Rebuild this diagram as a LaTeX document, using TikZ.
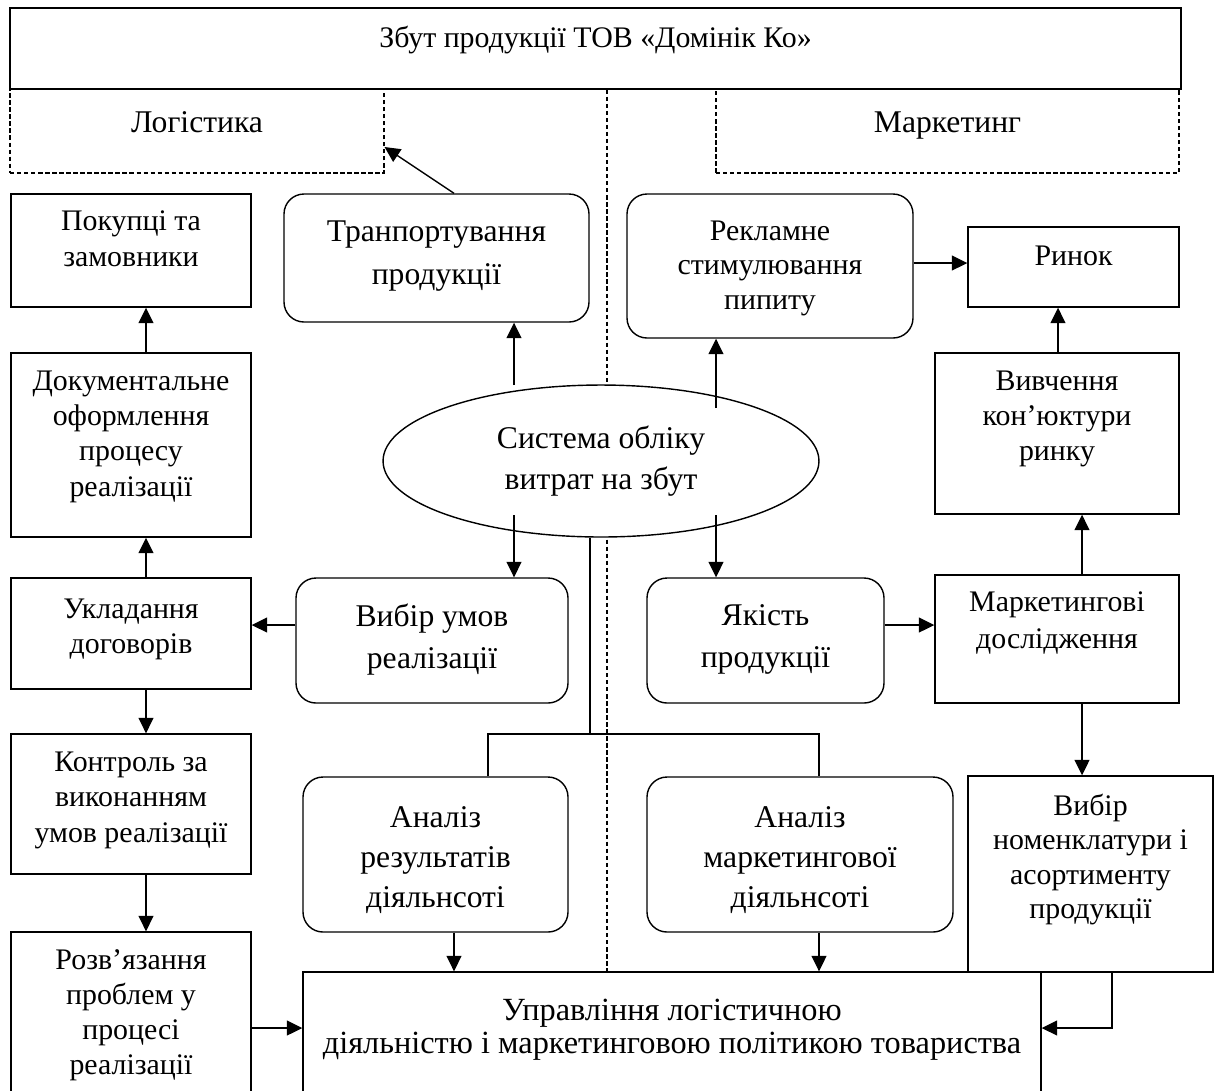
\documentclass[tikz,border=0pt]{standalone}
\usepackage{fontspec}
\setmainfont{Liberation Serif}
\usepackage{tikz}
\usetikzlibrary{arrows.meta,calc,fit,shapes.geometric}

\begin{document}
\begin{tikzpicture}[
  x=0.02cm, y=-0.02cm,
  bx/.style={draw, line width=0.8pt, inner sep=0pt},
  rb/.style={bx, rounded corners=0.4cm},
  zn/.style={draw, line width=0.6pt, dash pattern=on 2.5pt off 1.5pt, inner sep=0pt},
  txt/.style={align=center, inner sep=0pt, anchor=north},
  ts/.style={txt, font=\fontsize{17}{20}\selectfont},
  tl/.style={txt, font=\fontsize{18}{23}\selectfont},
  arr/.style={-{Triangle[length=3.1mm,width=3mm]}, line width=0.8pt},
  ln/.style={line width=0.8pt}
]
\useasboundingbox (0,0) rectangle (1219,1090);
\clip (0,0) rectangle (1219,1090);

\coordinate (cA) at (146,0);
\coordinate (cG) at (454,0);
\coordinate (cL) at (514,0);
\coordinate (cD) at (590,0);
\coordinate (cV) at (607,0);
\coordinate (cR) at (716,0);
\coordinate (cB) at (1058,0);
\coordinate (cC) at (1082,0);
\coordinate (cH) at (1112,0);
\coordinate (bL) at (488,734);
\coordinate (bR) at (819,734);
\coordinate (r0) at (0,263);
\coordinate (r1) at (0,625);
\coordinate (r2) at (0,1028);

\node[zn, fit={(10,89) (384,173)}, label={[tl, yshift=-0.45cm]north:{Логістика}}] (log) {};
\node[zn, fit={(716,89) (1179,173)}, label={[tl, yshift=-0.45cm]north:{Маркетинг}}] (mkt) {};
\node[bx, fit={(10,8) (1181,89)}, label={[ts, yshift=-0.37cm]north:{Збут продукції ТОВ «Домінік Ко»}}] (ttl) {};

\node[bx, fit={(11,194) (251,307)}, label={[ts, yshift=-0.35cm]north:{Покупці та\\замовники}}] (pok) {};
\node[bx, fit={(11,353) (251,537)}, label={[ts, yshift=-0.37cm]north:{Документальне\\оформлення\\процесу\\реалізації}}] (dok) {};
\node[bx, fit={(11,578) (251,689)}, label={[ts, yshift=-0.43cm]north:{Укладання\\договорів}}] (ukl) {};
\node[bx, fit={(11,734) (251,874)}, label={[ts, yshift=-0.37cm]north:{Контроль за\\виконанням\\умов реалізації}}] (kon) {};
\node[bx, fit={(11,932) (251,1110)}, label={[ts, yshift=-0.35cm]north:{Розв’язання\\проблем у\\процесі\\реалізації}}] (roz) {};

\node[rb, fit={(284,194) (589,322)}, label={[tl, font=\fontsize{18}{24.5}\selectfont, yshift=-0.55cm]north:{Транпортування\\продукції}}] (tra) {};
\node[rb, fit={(627,194) (913,338)}, label={[ts, font=\fontsize{17}{19.5}\selectfont, yshift=-0.55cm]north:{Рекламне\\стимулювання\\пипиту}}] (rek) {};
\node[bx, fit={(968,227) (1179,307)}, label={[ts, yshift=-0.39cm]north:{Ринок}}] (rin) {};
\node[bx, fit={(935,353) (1179,514)}, label={[ts, yshift=-0.37cm]north:{Вивчення\\кон’юктури\\ринку}}] (viv) {};

\node[rb, fit={(296,578) (568,703)}, label={[tl, font=\fontsize{18}{24}\selectfont, yshift=-0.53cm]north:{Вибір умов\\реалізації}}] (vyb) {};
\node[rb, fit={(647,578) (884,703)}, label={[tl, font=\fontsize{18}{24}\selectfont, yshift=-0.53cm]north:{Якість\\продукції}}] (yak) {};
\node[bx, fit={(935,575) (1179,703)}, label={[ts, font=\fontsize{17}{21}\selectfont, yshift=-0.35cm]north:{Маркетингові\\дослідження}}] (mar) {};

\node[rb, fit={(303,777) (568,932)}, label={[tl, yshift=-0.59cm]north:{Аналіз\\результатів\\діяльнсоті}}] (anr) {};
\node[rb, fit={(647,777) (953,932)}, label={[tl, yshift=-0.59cm]north:{Аналіз\\маркетингової\\діяльнсоті}}] (anm) {};
\node[bx, fit={(968,776) (1213,972)}, label={[ts, font=\fontsize{17}{19.5}\selectfont, yshift=-0.37cm]north:{Вибір\\номенклатури і\\асортименту\\продукції}}] (nom) {};
\node[bx, fit={(303,972) (1041,1110)}, label={[tl, font=\fontsize{18.4}{18.5}\selectfont, yshift=-0.55cm]north:{Управління логістичною\\діяльністю і маркетинговою політикою товариства}}] (upr) {};

\draw[zn] (ttl.south -| cV) -- (upr.north -| cV);

\node[draw, line width=0.8pt, ellipse, fill=white, minimum width=8.72cm, minimum height=3.04cm, inner sep=0pt, align=center, font=\fontsize{18}{23}\selectfont] (ell) at (601,461) {Система обліку\\витрат на збут};

\draw[arr] (tra.north -| cG) -- ([yshift=-0.32cm]log.east);
\draw[arr] ($(ell.center)+(-87,-76)$) -- (tra.south -| cL);
\draw[arr] ($(ell.center)+(-87,54)$) -- (vyb.north -| cL);
\draw[arr] ($(ell.center)+(115,-53)$) -- (rek.south -| cR);
\draw[arr] ($(ell.center)+(115,54)$) -- (yak.north -| cR);
\draw[arr] (rek.east |- r0) -- (rin.west |- r0);
\draw[arr] (viv.north -| cB) -- (rin.south -| cB);
\draw[arr] (mar.north -| cC) -- (viv.south -| cC);
\draw[arr] (mar.south -| cC) -- (nom.north -| cC);
\draw[arr] (yak.east |- r1) -- (mar.west |- r1);
\draw[arr] (vyb.west |- r1) -- (ukl.east |- r1);
\draw[arr] (dok.north -| cA) -- (pok.south -| cA);
\draw[arr] (ukl.north -| cA) -- (dok.south -| cA);
\draw[arr] (ukl.south -| cA) -- (kon.north -| cA);
\draw[arr] (kon.south -| cA) -- (roz.north -| cA);
\draw[arr] (roz.east |- r2) -- (upr.west |- r2);
\draw[arr] (nom.south -| cH) |- (upr.east |- r2);
\draw[arr] (anr.south -| cG) -- (upr.north -| cG);
\draw[arr] (anm.south -| bR) -- (upr.north -| bR);
\draw[ln] (ell.south -| cD) -- (cD |- bL);
\draw[ln] (anr.north -| bL) -- (bL) -- (bR) -- (anm.north -| bR);
\end{tikzpicture}
\end{document}
